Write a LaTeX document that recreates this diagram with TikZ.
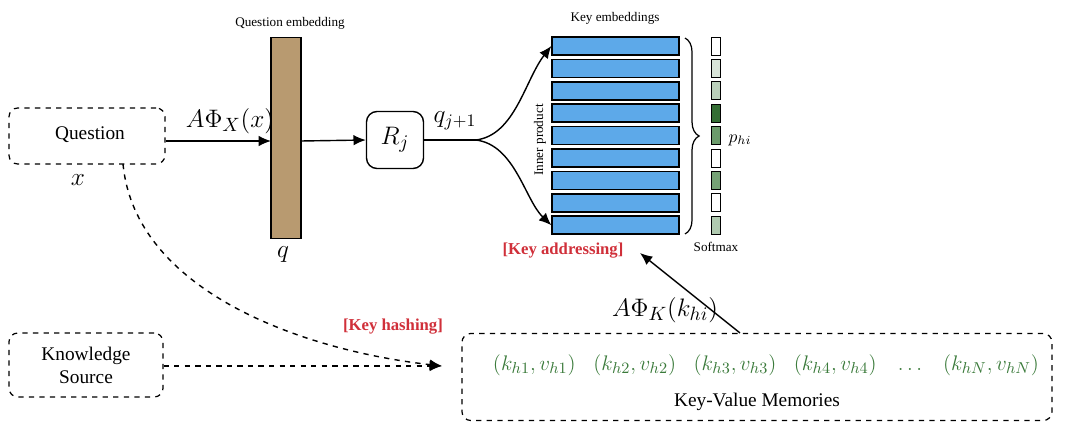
\documentclass[tikz,border=0pt]{standalone}
\usepackage{fontspec}
\setmainfont{Liberation Serif}
\usetikzlibrary{arrows.meta,decorations.pathreplacing}
\definecolor{brownbar}{HTML}{B89A70}
\definecolor{keyblue}{HTML}{5DA9E9}
\definecolor{redlab}{HTML}{D0303A}
\definecolor{kvgreen}{HTML}{3A7A3A}
\begin{document}
\begin{tikzpicture}[x=0.02cm,y=-0.02cm,
  dbox/.style={draw,dashed,rounded corners=5pt,line width=0.7pt,inner sep=0},
  arr/.style={-{Latex[length=7pt,width=6pt]},line width=0.8pt},
  keybar/.style={draw,line width=0.8pt,fill=keyblue,minimum width=127*0.02cm,minimum height=18*0.02cm,inner sep=0},
  cell/.style={draw,line width=0.5pt,minimum width=9*0.02cm,minimum height=18*0.02cm,inner sep=0},
  small/.style={font=\fontsize{7.5}{9}\selectfont},
  red/.style={text=redlab,font=\fontsize{9.5}{11}\selectfont\bfseries}]
\useasboundingbox (0,0) rectangle (1080,429);
% Question
\node[dbox,minimum width=156*0.02cm,minimum height=56*0.02cm] (q) at (87,136) {};
\node[font=\fontsize{11}{13}\selectfont] at (90,135) {Question};
\node[font=\fontsize{15}{17}\selectfont] at (78,180) {$x$};
% Knowledge
\node[dbox,minimum width=154*0.02cm,minimum height=64*0.02cm,align=center,font=\fontsize{11}{13}\selectfont] (ks) at (86,365) {Knowledge\\Source};
% bar
\node[draw,line width=0.8pt,fill=brownbar,minimum width=30*0.02cm,minimum height=201*0.02cm,inner sep=0] (qe) at (286,138) {};
\node[small] at (290,23) {Question embedding};
\node[font=\fontsize{15}{17}\selectfont] at (283,255) {$q$};
\draw[arr] (q.east |- 0,141) -- (271,141) coordinate (qin);
\node[font=\fontsize{15}{17}\selectfont] at (230,121) {$A\Phi_X(x)$};
% Rj
\node[draw,rounded corners=6pt,line width=0.8pt,minimum width=57*0.02cm,minimum height=57*0.02cm] (rj) at (395,140) {\fontsize{15}{17}\selectfont$R_j$};
\draw[arr] (301,141) -- (rj.west);
\coordinate (split) at (476,140);
\draw[line width=0.8pt] (rj.east) -- (split);
\node[font=\fontsize{14}{16}\selectfont] at (455,121) {$q_{j+1}$};
% key bars
\foreach \i in {1,...,9} {
  \node[keybar] (k\i) at (615.5,{46+(\i-1)*22.4}) {};
}
\node[small] at (615,18) {Key embeddings};
\node[small,rotate=90] at (540,140) {Inner product};
\draw[arr] (split) .. controls (515,135) and (525,80) .. (k1.west);
\draw[arr] (split) .. controls (515,145) and (525,200) .. (k9.west);
\draw[line width=0.7pt,decoration={brace,amplitude=8pt},decorate] (685,38) -- (685,234);
% softmax
\foreach \i/\c in {1/white,2/kvgreen!20,3/kvgreen!35,4/kvgreen!90!black,5/kvgreen!75,6/white,7/kvgreen!70,8/white,9/kvgreen!40} {
  \node[cell,fill=\c] (s\i) at (715.5,{46+(\i-1)*22.4}) {};
}
\node[font=\fontsize{10}{12}\selectfont] at (740,140) {$p_{hi}$};
\node[small] at (716,247) {Softmax};
\node[red] (ka) at (563,251) {[Key addressing]};
\node[red] at (393,327) {[Key hashing]};
% KV
\node[dbox,minimum width=590*0.02cm,minimum height=87*0.02cm] (kv) at (757,377) {};
\node[text=kvgreen,font=\fontsize{13}{15}\selectfont] at (766,365) {$(k_{h1}, v_{h1})\;\;\;(k_{h2}, v_{h2})\;\;\;(k_{h3}, v_{h3})\;\;\;(k_{h4}, v_{h4})\;\;\;\ldots\;\;\;(k_{hN}, v_{hN})$};
\node[font=\fontsize{11}{13}\selectfont] at (757,402) {Key-Value Memories};
\coordinate (kvtop) at (740,333);
\draw[arr] (kvtop) -- (640,253);
\node[font=\fontsize{15}{17}\selectfont] at (665,310) {$A\Phi_K(k_{hi})$};
% dashed
\coordinate (hashin) at (442,366);
\draw[arr,dashed] (ks.east |- 0,366) -- (hashin);
\draw[arr,dashed] (123,164) .. controls (135,290) and (300,350) .. (hashin);
\end{tikzpicture}
\end{document}
